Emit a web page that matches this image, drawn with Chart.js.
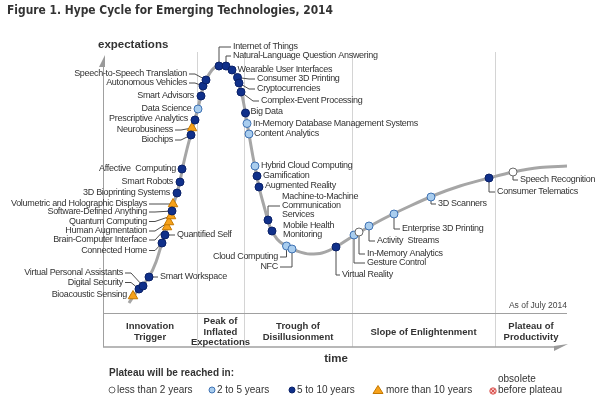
<!DOCTYPE html>
<html>
<head>
<meta charset="utf-8">
<script src="https://cdn.jsdelivr.net/npm/chart.js@4.4.1/dist/chart.umd.min.js"></script>
<style>
  html, body { margin: 0; padding: 0; background: #fff; }
  #wrap { width: 600px; height: 396px; }
</style>
</head>
<body>
<div id="wrap"><canvas id="hype" width="600" height="396"></canvas></div>
<script>
"use strict";

// Hype curve (time units across, expectation units up)
const curveTime = [26, 32, 38, 46, 53, 59, 63, 67, 70, 74, 77, 80, 84, 88, 92, 96, 100, 104, 109, 114,
  119, 124, 130, 135, 138, 141, 144, 147, 150, 153, 156, 161, 167, 174, 183, 194, 207, 219, 233, 247,
  262, 282, 307, 332, 357, 386, 410, 437, 464];
const curveExpect = [10, 19, 26, 36, 51, 70, 82, 95, 107, 120, 132, 147, 164, 179, 194, 209, 225, 235, 243, 247,
  248.5, 247.5, 242, 234, 222, 208, 190, 173, 156, 141, 126, 107, 86, 74, 67, 62, 59, 60, 66, 75,
  84, 95, 107, 118, 127, 135, 141, 145.5, 147];

// Technologies on the curve
const techNames = [
  'Bioacoustic Sensing', 'Digital Security', 'Virtual Personal Assistants', 'Smart Workspace',
  'Connected Home', 'Quantified Self', 'Brain-Computer Interface', 'Human Augmentation',
  'Quantum Computing', 'Software-Defined Anything', 'Volumetric and Holographic Displays',
  '3D Bioprinting Systems', 'Smart Robots', 'Affective  Computing', 'Biochips', 'Neurobusiness',
  'Prescriptive Analytics', 'Data Science', 'Smart Advisors', 'Autonomous Vehicles',
  'Speech-to-Speech Translation', 'Internet of Things', 'Natural-Language Question Answering',
  'Wearable User Interfaces', 'Consumer 3D Printing', 'Cryptocurrencies', 'Complex-Event Processing',
  'Big Data', 'In-Memory Database Management Systems', 'Content Analytics', 'Hybrid Cloud Computing',
  'Gamification', 'Augmented Reality', 'Machine-to-Machine\nCommunication\nServices',
  'Mobile Health\nMonitoring', 'Cloud Computing', 'NFC', 'Virtual Reality', 'Gesture Control',
  'In-Memory Analytics', 'Activity  Streams', 'Enterprise 3D Printing', '3D Scanners',
  'Consumer Telematics', 'Speech Recognition'
];
const techTime = [30, 36, 40, 46, 59, 62, 64, 66, 68, 69, 70, 74, 77, 79, 88, 89, 92, 95, 98, 100,
  103, 116, 123, 129, 134.5, 136, 138, 142.5, 144, 146, 152, 154, 156, 165, 169, 183.5, 189, 233, 251,
  256, 266, 291, 328, 386, 410];
const techExpect = [17, 24, 27, 36, 70, 78, 86, 91, 97, 102, 109, 120, 131, 144, 178, 185, 193, 204, 217, 227,
  233, 247, 247, 243, 235.5, 230, 221, 200, 189.5, 179, 147, 137, 126, 93, 82, 67, 64, 66, 78,
  81, 87, 99, 116, 135, 141];
// 0 = less than 2 years, 1 = 2 to 5, 2 = 5 to 10, 3 = more than 10
const techPlateau = [3, 2, 2, 2, 2, 2, 3, 3, 3, 2, 3, 2, 2, 2, 2, 3, 2, 1, 2, 2,
  2, 2, 2, 2, 2, 2, 2, 2, 1, 1, 1, 2, 2, 2, 2, 1, 1, 2, 1,
  0, 1, 1, 1, 2, 0];

const plateauLabels = ['less than 2 years', '2 to 5 years', '5 to 10 years', 'more than 10 years'];
const phaseNames = [['Innovation', 'Trigger'], ['Peak of', 'Inflated', 'Expectations'],
  ['Trough of', 'Disillusionment'], ['Slope of Enlightenment'], ['Plateau of', 'Productivity']];
const phaseBounds = [0, 94, 141, 249, 392, 464];

// label placement: [dx, dy, side ('r' = text ends left of marker), leader]
const labelPlace = {
  'Bioacoustic Sensing': [-6, -1, 'r', ''],
  'Digital Security': [-16, -6.5, 'r', 'dash'],
  'Virtual Personal Assistants': [-20, -13, 'r', 'dash'],
  'Smart Workspace': [11, 0, 'l', 'dash'],
  'Connected Home': [-15, 7.5, 'r', 'dash'],
  'Quantified Self': [12, 0, 'l', 'dash'],
  'Brain-Computer Interface': [-20, 13, 'r', 'dash'],
  'Human Augmentation': [-22, 9, 'r', 'dash'],
  'Quantum Computing': [-24, 5.5, 'r', 'dash'],
  'Software-Defined Anything': [-25, 1, 'r', 'dash'],
  'Volumetric and Holographic Displays': [-26, 0, 'r', 'dash'],
  '3D Bioprinting Systems': [-7, 0, 'r', ''],
  'Smart Robots': [-7, 0, 'r', ''],
  'Affective  Computing': [-6, 0, 'r', ''],
  'Biochips': [-18, 5, 'r', 'dash'],
  'Neurobusiness': [-19, 2, 'r', 'dash'],
  'Prescriptive Analytics': [-7, -1, 'r', ''],
  'Data Science': [-6.5, 0, 'r', ''],
  'Smart Advisors': [-7, 0, 'r', ''],
  'Autonomous Vehicles': [-16, -3, 'r', 'dash'],
  'Speech-to-Speech Translation': [-19, -6, 'r', 'dash'],
  'Internet of Things': [14, -19, 'l', 'elbow'],
  'Natural-Language Question Answering': [7, -10, 'l', 'elbow'],
  'Wearable User Interfaces': [5.5, 0, 'l', ''],
  'Consumer 3D Printing': [19.5, 1.5, 'l', 'dash'],
  'Cryptocurrencies': [18, 6, 'l', 'dash'],
  'Complex-Event Processing': [20, 9, 'l', 'dash'],
  'Big Data': [5, -1, 'l', ''],
  'In-Memory Database Management Systems': [6, 0, 'l', ''],
  'Content Analytics': [5, 0, 'l', ''],
  'Hybrid Cloud Computing': [6, 0, 'l', ''],
  'Gamification': [6, 0, 'l', ''],
  'Augmented Reality': [6, -1, 'l', ''],
  'Machine-to-Machine\nCommunication\nServices': [14, -14, 'l', 'elbow'],
  'Mobile Health\nMonitoring': [11, -0.5, 'l', ''],
  'Cloud Computing': [-8.5, 11, 'r', 'elbow'],
  'NFC': [-14, 18, 'r', 'elbow'],
  'Virtual Reality': [6, 28, 'l', 'elbow'],
  'Gesture Control': [13, 28, 'l', 'elbow'],
  'In-Memory Analytics': [8, 22, 'l', 'elbow'],
  'Activity  Streams': [8, 15, 'l', 'elbow'],
  'Enterprise 3D Printing': [8, 15, 'l', 'elbow'],
  '3D Scanners': [7, 7, 'l', 'elbow'],
  'Consumer Telematics': [8, 14, 'l', 'elbow'],
  'Speech Recognition': [7, 8, 'l', 'elbow'],
};

const colors = {
  curve: '#a6a6a6',
  axis: '#a0a0a0',
  divider: '#d4d4d4',
  text: '#333333',
  leader: '#4d4d4d',
  fill: ['#ffffff', '#a9cdee', '#10308a', '#f7a21b'],
  border: ['#6b6b6b', '#3f72b3', '#0a2168', '#c47800'],
};
const SANS = '"Liberation Sans", Arial, sans-serif';

function markerPoints(cat) {
  const pts = [];
  techNames.forEach((n, i) => {
    if (techPlateau[i] === cat) pts.push({ x: techTime[i], y: techExpect[i] });
  });
  return pts;
}

function markerSet(cat) {
  return {
    label: plateauLabels[cat],
    data: markerPoints(cat),
    pointStyle: cat === 3 ? 'triangle' : 'circle',
    pointRadius: cat === 3 ? 5.5 : 4,
    pointBackgroundColor: colors.fill[cat],
    pointBorderColor: colors.border[cat],
    pointBorderWidth: 1,
    showLine: false,
    order: 0,
  };
}

const hypeDecor = {
  id: 'hypeDecor',
  beforeDatasetsDraw(chart) {
    const { ctx, chartArea: ca, scales: { x, y } } = chart;
    const bandBottom = ca.bottom + 34;
    ctx.save();

    // phase dividers
    ctx.strokeStyle = colors.divider;
    ctx.lineWidth = 1;
    phaseBounds.slice(1, -1).forEach(b => {
      const px = Math.round(x.getPixelForValue(b)) + 0.5;
      ctx.beginPath();
      ctx.moveTo(px, ca.top - 3);
      ctx.lineTo(px, bandBottom);
      ctx.stroke();
    });

    // axes
    ctx.strokeStyle = colors.axis;
    ctx.beginPath();
    ctx.moveTo(ca.left + 0.5, ca.top + 8);
    ctx.lineTo(ca.left + 0.5, bandBottom);
    ctx.moveTo(ca.left, ca.bottom + 0.5);
    ctx.lineTo(ca.right, ca.bottom + 0.5);
    ctx.stroke();
    ctx.lineWidth = 1.5;
    ctx.beginPath();
    ctx.moveTo(ca.left, bandBottom);
    ctx.lineTo(ca.right - 10, bandBottom);
    ctx.stroke();
    ctx.fillStyle = '#9a9a9a';
    ctx.beginPath();
    ctx.moveTo(ca.left + 2, ca.top);
    ctx.lineTo(ca.left + 2, ca.top + 12);
    ctx.lineTo(ca.left - 4, ca.top + 12);
    ctx.closePath();
    ctx.fill();
    ctx.beginPath();
    ctx.moveTo(ca.right - 13, bandBottom - 1);
    ctx.lineTo(ca.right + 1, bandBottom - 3);
    ctx.lineTo(ca.right - 13, bandBottom + 4);
    ctx.closePath();
    ctx.fill();

    // leaders and labels
    ctx.font = '9px ' + SANS;
    ctx.letterSpacing = '-0.3px';
    ctx.textBaseline = 'middle';
    techNames.forEach((name, i) => {
      const mx = x.getPixelForValue(techTime[i]);
      const my = y.getPixelForValue(techExpect[i]);
      const [dx, dy, side, leader] = labelPlace[name];
      const tx = mx + dx, ty = my + dy;
      const lines = name.split('\n');
      ctx.strokeStyle = colors.leader;
      ctx.lineWidth = 1;
      ctx.beginPath();
      if (leader === 'dash') {
        const s = side === 'r' ? 1 : -1;
        ctx.moveTo(tx + 2 * s, ty);
        ctx.lineTo(tx + 8 * s, ty);
        ctx.lineTo(mx, my);
      } else if (leader === 'elbow') {
        ctx.moveTo(mx, my);
        ctx.lineTo(mx, ty);
        ctx.lineTo(side === 'r' ? tx + 2 : tx - 2, ty);
      }
      ctx.stroke();
      ctx.fillStyle = colors.text;
      ctx.textAlign = side === 'r' ? 'right' : 'left';
      const lh = 9;
      lines.forEach((ln, k) => {
        ctx.fillText(ln, tx, ty + (k - (lines.length - 1) / 2) * lh);
      });
    });
    ctx.restore();
  },
  afterDraw(chart) {
    const { ctx, chartArea: ca, scales: { x } } = chart;
    ctx.save();
    ctx.fillStyle = colors.text;
    ctx.textBaseline = 'middle';

    // title
    ctx.font = 'bold 12px "DejaVu Sans", Verdana, sans-serif';
    ctx.textAlign = 'left';
    ctx.fillText('Figure 1. Hype Cycle for Emerging Technologies, 2014', 7, 11, 326);

    ctx.font = 'bold 11.5px ' + SANS;
    ctx.fillText('expectations', ca.left - 5, ca.top - 10);
    ctx.textAlign = 'center';
    ctx.fillText('time', 336, ca.bottom + 46);

    // phases
    ctx.font = 'bold 9.5px ' + SANS;
    phaseNames.forEach((lines, k) => {
      const cx = (x.getPixelForValue(phaseBounds[k]) + x.getPixelForValue(phaseBounds[k + 1])) / 2;
      lines.forEach((ln, j) => {
        ctx.fillText(ln, cx, ca.bottom + 19 + (j - (lines.length - 1) / 2) * 10.5);
      });
    });

    ctx.font = '8.5px ' + SANS;
    ctx.textAlign = 'right';
    ctx.fillStyle = '#444';
    ctx.fillText('As of July 2014', ca.right, ca.bottom - 7);

    // legend
    ctx.fillStyle = colors.text;
    ctx.textAlign = 'left';
    ctx.font = 'bold 10px ' + SANS;
    ctx.fillText('Plateau will be reached in:', 109, 373);
    ctx.font = '10px ' + SANS;
    const ly = 390;
    const legendX = [112, 212, 292, 378];
    legendX.forEach((lx, cat) => {
      ctx.fillStyle = colors.fill[cat];
      ctx.strokeStyle = colors.border[cat];
      ctx.lineWidth = 1;
      ctx.beginPath();
      if (cat === 3) {
        ctx.moveTo(lx, ly - 4.5);
        ctx.lineTo(lx + 5, ly + 3.5);
        ctx.lineTo(lx - 5, ly + 3.5);
        ctx.closePath();
      } else {
        ctx.arc(lx, ly, 3, 0, Math.PI * 2);
      }
      ctx.fill();
      ctx.stroke();
      ctx.fillStyle = colors.text;
      ctx.fillText(plateauLabels[cat], lx + (cat === 3 ? 8 : 5), ly);
    });
    // obsolete before plateau
    ctx.fillStyle = '#f6c1c1';
    ctx.strokeStyle = '#d9534f';
    ctx.beginPath();
    ctx.arc(493, ly + 1, 3.2, 0, Math.PI * 2);
    ctx.fill();
    ctx.stroke();
    ctx.beginPath();
    ctx.moveTo(491, ly - 1); ctx.lineTo(495, ly + 3);
    ctx.moveTo(495, ly - 1); ctx.lineTo(491, ly + 3);
    ctx.stroke();
    ctx.fillStyle = colors.text;
    ctx.fillText('obsolete', 498, 379);
    ctx.fillText('before plateau', 498, ly);
    ctx.restore();
  },
};

new Chart(document.getElementById('hype'), {
  type: 'scatter',
  data: {
    datasets: [
      markerSet(0), markerSet(1), markerSet(2), markerSet(3),
      {
        label: 'curve',
        data: curveTime.map((t, i) => ({ x: t, y: curveExpect[i] })),
        showLine: true,
        borderColor: colors.curve,
        borderWidth: 3,
        pointRadius: 0,
        cubicInterpolationMode: 'monotone',
        order: 10,
      },
    ],
  },
  options: {
    responsive: false,
    animation: false,
    events: [],
    layout: { padding: { left: 103, right: 33, top: 55, bottom: 83 } },
    plugins: { legend: { display: false }, tooltip: { enabled: false } },
    scales: {
      x: { type: 'linear', min: 0, max: 464, display: false },
      y: { type: 'linear', min: 0, max: 258, display: false },
    },
  },
  plugins: [hypeDecor],
});
</script>
</body>
</html>
